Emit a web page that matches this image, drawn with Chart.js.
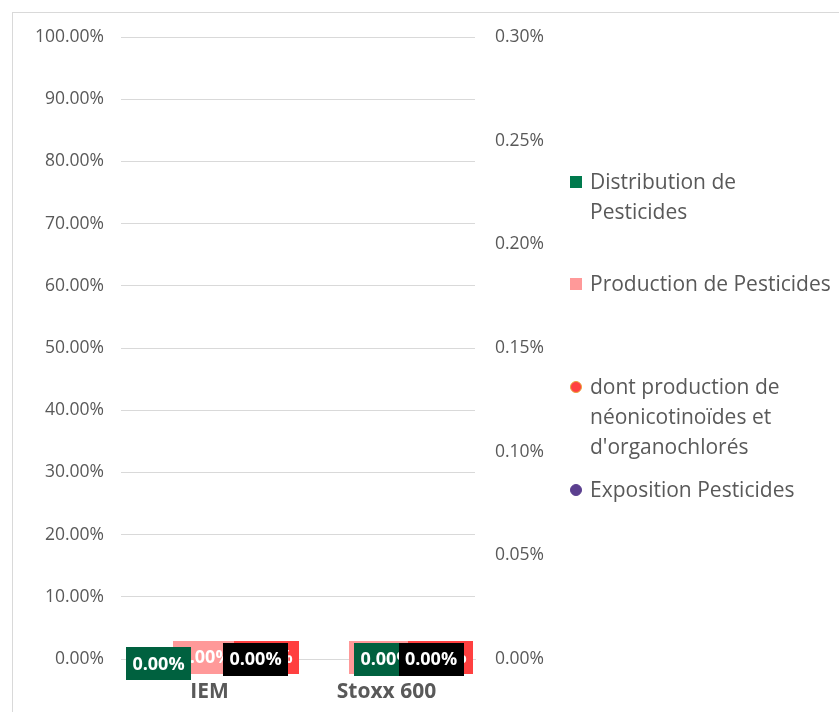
<!DOCTYPE html>
<html lang="fr">
<head>
<meta charset="utf-8">
<script src="https://cdn.jsdelivr.net/npm/chart.js@4/dist/chart.umd.min.js"></script>
<style>
  html, body { margin: 0; padding: 0; background: #fff; }
  #wrap { position: relative; width: 839px; height: 712px; overflow: hidden; }
  #frame { position: absolute; left: 12px; top: 12px; width: 900px; height: 800px;
           border-left: 1px solid #d9d9d9; border-top: 1px solid #d9d9d9; }
  #chart { position: absolute; left: 0; top: 0; }
  #legend { position: absolute; left: 569px; top: 0; font-family: 'Open Sans', sans-serif;
            font-size: 21px; color: #595959; line-height: 30px; }
  .item { position: absolute; left: 0; white-space: nowrap; }
  .item .txt { position: absolute; left: 21px; top: 0; }
  .sw { position: absolute; left: 1px; top: 10px; width: 12px; height: 12px; }
  .dot { position: absolute; left: 1px; top: 10px; width: 12px; height: 12px; border-radius: 50%; box-sizing: border-box; }
</style>
</head>
<body>
<div id="wrap">
  <div id="frame"></div>
  <canvas id="chart" width="839" height="712"></canvas>
  <div id="legend"></div>
</div>
<script>
  // categories and series (all values are shares, 1 = 100%)
  var categories = ['IEM', 'Stoxx 600'];
  var distribution = [0, 0];
  var production = [0, 0];
  var neonicotinoides = [0, 0];
  var exposition = [0, 0];

  var leftTicks = [0, 0.1, 0.2, 0.3, 0.4, 0.5, 0.6, 0.7, 0.8, 0.9, 1];
  var rightTicks = [0, 0.0005, 0.001, 0.0015, 0.002, 0.0025, 0.003];

  var GREEN = '#00613F';
  var PINK = '#FF9999';
  var RED = '#FF4040';
  var PURPLE = '#5B3F8F';

  // where each value label sits relative to its category centre / zero line
  var labelSpots = {
    0: { bg: GREEN, dx: [-51, 0], dy: [4.5, 0] },
    1: { bg: PINK, dx: [-4, -5], dy: [-2, -2] },
    2: { bg: RED, dx: [57, 54], dy: [-2, -2] },
    3: { bg: '#000000', dx: [46, 44.5], dy: [0, 0] }
  };
  var labelOrder = [1, 2, 0, 3];

  function pct(v) { return (v * 100).toFixed(2) + '%'; }

  var valueLabels = {
    id: 'valueLabels',
    afterDatasetsDraw: function (chart) {
      var ctx = chart.ctx;
      var xs = chart.scales.x;
      ctx.save();
      ctx.font = 'bold 18px "Open Sans", sans-serif';
      ctx.textAlign = 'center';
      ctx.textBaseline = 'middle';
      labelOrder.forEach(function (di) {
        var ds = chart.data.datasets[di];
        var ys = chart.scales[ds.yAxisID || 'y'];
        var spot = labelSpots[di];
        ds.data.forEach(function (v, i) {
          var cx = xs.getPixelForValue(i) + spot.dx[i];
          var cy = ys.getPixelForValue(v) + spot.dy[i];
          ctx.fillStyle = spot.bg;
          ctx.fillRect(Math.round(cx - 32.5), Math.round(cy - 16.5), 65, 33);
          ctx.fillStyle = '#ffffff';
          ctx.fillText(pct(v), cx, cy + 1);
        });
      });
      ctx.restore();
    }
  };

  var tickFont = { family: '"Open Sans", sans-serif', size: 17.5 };

  new Chart(document.getElementById('chart'), {
    data: {
      labels: categories,
      datasets: [
        { type: 'bar', label: 'Distribution de Pesticides', data: distribution,
          backgroundColor: GREEN, yAxisID: 'y', order: 2 },
        { type: 'bar', label: 'Production de Pesticides', data: production,
          backgroundColor: PINK, yAxisID: 'y', order: 2 },
        { type: 'line', label: "dont production de néonicotinoïdes et d'organochlorés", data: neonicotinoides,
          showLine: false, pointRadius: 5, pointBackgroundColor: RED, pointBorderColor: '#E8A33A',
          yAxisID: 'y1', order: 1 },
        { type: 'line', label: 'Exposition Pesticides', data: exposition,
          showLine: false, pointRadius: 5, pointBackgroundColor: PURPLE, pointBorderColor: PURPLE,
          yAxisID: 'y1', order: 1 }
      ]
    },
    options: {
      responsive: false,
      animation: false,
      layout: { padding: { top: 0, bottom: 0, left: 0, right: 0 } },
      plugins: {
        legend: { display: false },
        tooltip: { enabled: false }
      },
      scales: {
        x: {
          grid: { display: false, drawTicks: false },
          border: { display: true, color: '#d9d9d9' },
          ticks: { color: '#595959', padding: 20, font: { family: '"Open Sans", sans-serif', size: 21, weight: 'bold' } },
          afterFit: function (s) { s.height = 53; }
        },
        y: {
          position: 'left',
          min: 0, max: 1,
          afterBuildTicks: function (s) { s.ticks = leftTicks.map(function (v) { return { value: v }; }); },
          ticks: { color: '#595959', padding: 17, font: tickFont, callback: function (v) { return pct(v); } },
          grid: { color: '#d9d9d9', drawTicks: false },
          border: { display: false },
          afterFit: function (s) { s.width = 121; }
        },
        y1: {
          position: 'right',
          min: 0, max: 0.003,
          afterBuildTicks: function (s) { s.ticks = rightTicks.map(function (v) { return { value: v }; }); },
          ticks: { color: '#595959', padding: 20, font: tickFont, callback: function (v) { return pct(v); } },
          grid: { display: false, drawTicks: false },
          border: { display: false },
          afterFit: function (s) { s.width = 364; }
        }
      }
    },
    plugins: [valueLabels, {
      id: 'plotTop',
      beforeLayout: function (chart) { chart.options.layout.padding.top = 37; }
    }]
  });

  // legend at the right, wrapped the way the series names break
  var legendItems = [
    { lines: ['Distribution de', 'Pesticides'], top: 166, mark: 'sw', color: '#007A4D' },
    { lines: ['Production de Pesticides'], top: 268, mark: 'sw', color: PINK },
    { lines: ['dont production de', 'néonicotinoïdes et', "d'organochlorés"], top: 371, mark: 'dot', color: RED, edge: '#E8A33A' },
    { lines: ['Exposition Pesticides'], top: 474, mark: 'dot', color: PURPLE, edge: PURPLE }
  ];
  var legend = document.getElementById('legend');
  legendItems.forEach(function (it) {
    var row = document.createElement('div');
    row.className = 'item';
    row.style.top = it.top + 'px';
    var m = document.createElement('div');
    m.className = it.mark;
    m.style.background = it.color;
    if (it.edge) m.style.border = '1.5px solid ' + it.edge;
    row.appendChild(m);
    var t = document.createElement('div');
    t.className = 'txt';
    t.innerHTML = it.lines.join('<br>');
    row.appendChild(t);
    legend.appendChild(row);
  });
</script>
</body>
</html>
